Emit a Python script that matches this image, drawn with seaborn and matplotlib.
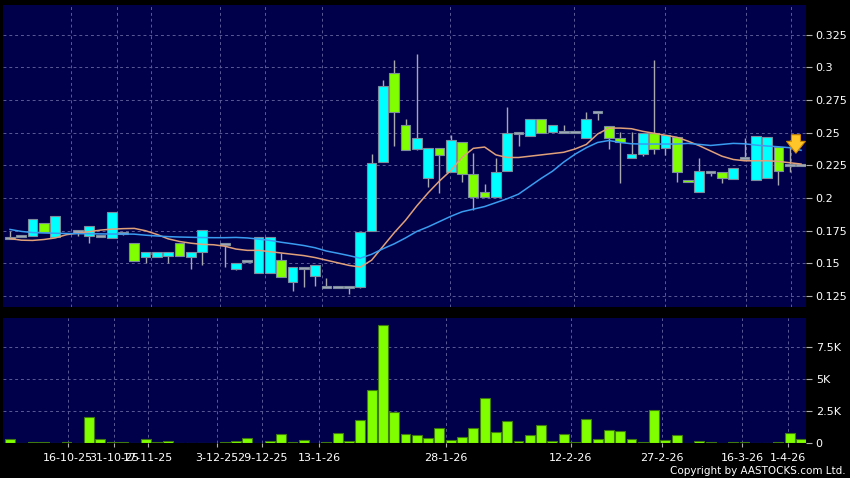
import numpy as np
import matplotlib
matplotlib.use("Agg")
import matplotlib.pyplot as plt
import seaborn as sns

nan = np.nan

# daily candles (oldest -> newest)
opens = [
    0.1697, 0.1713, 0.1707, 0.1807, 0.1704, nan, 0.1744, 0.1710, 0.1712, 0.1692,
    0.1730, 0.1654, 0.1549, 0.1549, 0.1557, 0.1654, 0.1549, 0.1591, nan, 0.1646,
    0.1460, 0.1520, 0.1429, 0.1429, 0.1528, 0.1360, 0.1463, 0.1403, 0.1320, 0.1320,
    0.1320, 0.1322, 0.1750, 0.2278, 0.2953, 0.2556, 0.2372, 0.2150, 0.2380, 0.2201,
    0.2430, 0.2181, 0.2048, 0.2010, 0.2204, 0.2500, 0.2474, 0.2602, 0.2502, 0.2504,
    0.2504, 0.2456, 0.2655, 0.2553, 0.2456, 0.2303, 0.2334, 0.2499, 0.2380, 0.2469,
    0.2138, 0.2044, 0.2201, 0.2201, 0.2143, 0.2304, 0.2138, 0.2150, 0.2392, 0.2252,
    0.2250]
closes = [
    0.1697, 0.1713, 0.1842, 0.1738, 0.1860, nan, 0.1744, 0.1784, 0.1712, 0.1891,
    0.1730, 0.1520, 0.1588, 0.1588, 0.1587, 0.1559, 0.1591, 0.1753, nan, 0.1646,
    0.1500, 0.1520, 0.1704, 0.1704, 0.1394, 0.1475, 0.1463, 0.1485, 0.1320, 0.1320,
    0.1320, 0.1742, 0.2265, 0.2856, 0.2655, 0.2367, 0.2456, 0.2380, 0.2326, 0.2443,
    0.2183, 0.2010, 0.2010, 0.2201, 0.2495, 0.2500, 0.2602, 0.2500, 0.2558, 0.2504,
    0.2504, 0.2602, 0.2655, 0.2456, 0.2426, 0.2334, 0.2499, 0.2372, 0.2482, 0.2201,
    0.2120, 0.2204, 0.2201, 0.2150, 0.2227, 0.2304, 0.2476, 0.2469, 0.2206, 0.2252,
    0.2250]
highs = [
    0.1749, 0.1713, 0.1842, 0.1807, 0.1860, nan, 0.1744, 0.1784, 0.1712, 0.1891,
    0.1730, 0.1654, 0.1588, 0.1588, 0.1587, 0.1654, 0.1591, 0.1753, nan, 0.1646,
    0.1500, 0.1520, 0.1704, 0.1704, 0.1580, 0.1475, 0.1463, 0.1485, 0.1386, 0.1320,
    0.1320, 0.1742, 0.2337, 0.2902, 0.3055, 0.2604, 0.3100, 0.2380, 0.2380, 0.2482,
    0.2430, 0.2342, 0.2107, 0.2304, 0.2698, 0.2500, 0.2602, 0.2602, 0.2558, 0.2558,
    0.2504, 0.2655, 0.2655, 0.2553, 0.2507, 0.2507, 0.2499, 0.3055, 0.2482, 0.2469,
    0.2138, 0.2304, 0.2201, 0.2201, 0.2227, 0.2456, 0.2476, 0.2469, 0.2392, 0.2443,
    0.2250]
lows = [
    0.1690, 0.1713, 0.1707, 0.1738, 0.1704, nan, 0.1710, 0.1660, 0.1712, 0.1692,
    0.1715, 0.1520, 0.1500, 0.1549, 0.1500, 0.1559, 0.1455, 0.1488, nan, 0.1475,
    0.1450, 0.1520, 0.1429, 0.1429, 0.1394, 0.1291, 0.1322, 0.1327, 0.1320, 0.1320,
    0.1270, 0.1310, 0.1750, 0.2278, 0.2400, 0.2367, 0.2367, 0.2082, 0.2036, 0.2201,
    0.2125, 0.1908, 0.2010, 0.2010, 0.2204, 0.2398, 0.2474, 0.2500, 0.2502, 0.2504,
    0.2504, 0.2456, 0.2600, 0.2377, 0.2112, 0.2303, 0.2320, 0.2336, 0.2329, 0.2120,
    0.2120, 0.2044, 0.2170, 0.2112, 0.2143, 0.2304, 0.2138, 0.2150, 0.2100, 0.2200,
    0.2250]
volumes = [
    310, 0, 100, 100, 0, 80, 30, 2030, 340, 100,
    100, 0, 310, 80, 210, 20, 0, 0, 0, 80,
    160, 390, 0, 180, 700, 80, 230, 0, 130, 780,
    180, 1820, 4140, 9240, 2470, 750, 680, 440, 1220, 260,
    520, 1220, 3540, 860, 1740, 180, 650, 1430, 160, 700,
    100, 1900, 340, 1040, 940, 340, 100, 2630, 260, 680,
    0, 210, 80, 0, 130, 100, 20, 20, 80, 830,
    360]
# moving averages as drawn on the chart
ma_short = [
    0.1690, 0.1678, 0.1676, 0.1683, 0.1695, 0.1720, 0.1732, 0.1743, 0.1755, 0.1762,
    0.1766, 0.1768, 0.1750, 0.1722, 0.1688, 0.1668, 0.1655, 0.1646, 0.1643, 0.1632,
    0.1610, 0.1600, 0.1600, 0.1590, 0.1580, 0.1570, 0.1560, 0.1545, 0.1525, 0.1505,
    0.1485, 0.1472, 0.1525, 0.1630, 0.1735, 0.1830, 0.1940, 0.2040, 0.2130, 0.2210,
    0.2310, 0.2380, 0.2390, 0.2330, 0.2310, 0.2310, 0.2320, 0.2330, 0.2340, 0.2350,
    0.2375, 0.2410, 0.2490, 0.2535, 0.2535, 0.2530, 0.2510, 0.2495, 0.2480, 0.2465,
    0.2435, 0.2400, 0.2360, 0.2320, 0.2295, 0.2285, 0.2285, 0.2285, 0.2280, 0.2270,
    0.2260]
ma_long = [
    0.1760, 0.1745, 0.1736, 0.1733, 0.1731, 0.1729, 0.1728, 0.1727, 0.1726, 0.1725,
    0.1725, 0.1724, 0.1716, 0.1710, 0.1705, 0.1702, 0.1700, 0.1698, 0.1697, 0.1697,
    0.1699, 0.1695, 0.1686, 0.1676, 0.1662, 0.1650, 0.1637, 0.1620, 0.1595, 0.1578,
    0.1560, 0.1540, 0.1570, 0.1612, 0.1650, 0.1695, 0.1745, 0.1780, 0.1820, 0.1860,
    0.1895, 0.1915, 0.1935, 0.1965, 0.1995, 0.2030, 0.2090, 0.2150, 0.2205, 0.2275,
    0.2335, 0.2385, 0.2425, 0.2440, 0.2425, 0.2415, 0.2413, 0.2413, 0.2413, 0.2413,
    0.2418, 0.2410, 0.2402, 0.2410, 0.2418, 0.2415, 0.2405, 0.2398, 0.2392, 0.2385,
    0.2365]

date_ticks = [5.13, 9.2, 12.2, 18.3, 22.3, 27.35, 38.6, 49.6, 57.7, 64.8, 68.85]
date_labels = ["16-10-25", "31-10-25", "17-11-25", "3-12-25", "29-12-25", "13-1-26",
               "28-1-26", "12-2-26", "27-2-26", "16-3-26", "1-4-26"]
price_ticks = [0.125, 0.15, 0.175, 0.2, 0.225, 0.25, 0.275, 0.3, 0.325]
price_labels = ["0.125", "0.15", "0.175", "0.2", "0.225", "0.25", "0.275", "0.3", "0.325"]
vol_ticks = [0, 2500, 5000, 7500]
vol_labels = ["0", "2.5K", "5K", "7.5K"]
last_price = 0.225

BG = "#00004a"
GRID = "#5a5a96"
UP = "#00ffff"
DOWN = "#80ff00"
FLAT = "#a4aabb"

idx = np.arange(len(opens))
o = np.array(opens)
c = np.array(closes)
h = np.array(highs)
l = np.array(lows)
ok = ~np.isnan(o)

fig = plt.figure(figsize=(8.5, 4.78), dpi=100, facecolor="black")
W, H = 850, 478
ax1 = fig.add_axes([3 / W, 1 - 307 / H, 803 / W, 302 / H])
ax2 = fig.add_axes([3 / W, 1 - 443.3 / H, 803 / W, 125.3 / H])

for ax in (ax1, ax2):
    ax.set_facecolor(BG)
    ax.set_axisbelow(True)
    ax.grid(True, color=GRID, linestyle=(0, (3, 3)), linewidth=0.7)
    for sp in ax.spines.values():
        sp.set_visible(False)
    ax.yaxis.tick_right()
    ax.tick_params(axis="y", colors="#b0b0b0", labelcolor="white", length=4,
                   width=0.8, pad=3, labelsize=8)
    ax.set_xlim(-0.62, 70.44)

# candles
colors = [UP if cc > oo else (DOWN if cc < oo else FLAT) for oo, cc in zip(o[ok], c[ok])]
body_lo = np.minimum(o[ok], c[ok])
body_h = np.abs(c[ok] - o[ok])
flat = body_h == 0
body_lo = np.where(flat, o[ok] - 0.0008, body_lo)
body_h = np.where(flat, 0.0016, body_h)
ax1.vlines(idx[ok], l[ok], h[ok], color="#a8a8b0", linewidth=1, zorder=1)
ax1.bar(idx[ok], body_h, bottom=body_lo, width=0.86, color=colors,
        edgecolor="#7c8c9c", linewidth=0.8, zorder=2)

sns.lineplot(x=idx, y=ma_short, color="#e0a07a", linewidth=1.1, ax=ax1, zorder=3)
sns.lineplot(x=idx, y=ma_long, color="#3a9cf0", linewidth=1.1, ax=ax1, zorder=3)

ax1.hlines(last_price, idx[-1], 70.44, color="#a8a8b0", linewidth=1, zorder=2)
ax1.annotate("", xy=(69.55, 0.2322), xytext=(69.55, 0.2505),
             arrowprops=dict(arrowstyle="simple,head_width=1.35,head_length=0.85,tail_width=0.65",
                             fc="#ffc62a", ec="#d08a00", lw=0.8), zorder=5)

ax1.set_ylim(0.1167, 0.3476)
ax1.set_yticks(price_ticks)
ax1.set_yticklabels(price_labels)
ax1.set_xticks([t + 0.3 for t in date_ticks])
ax1.tick_params(axis="x", length=0, labelbottom=False)
ax1.set_xlabel("")
ax1.set_ylabel("")

# volume
sns.barplot(x=idx, y=volumes, native_scale=True, color=DOWN, saturation=1,
            edgecolor="#3f7a10", linewidth=0.8, width=0.88, errorbar=None, ax=ax2)
ax2.set_xlim(-0.62, 70.44)
ax2.set_ylim(0, 9800)
ax2.set_yticks(vol_ticks)
ax2.set_yticklabels(vol_labels)
ax2.set_xticks(date_ticks)
ax2.set_xticklabels(date_labels)
ax2.tick_params(axis="x", colors="#b0b0b0", labelcolor="white", length=3,
                width=0.8, pad=4, labelsize=8)
ax2.set_xlabel("")
ax2.set_ylabel("")

fig.text(846 / W, 1 - 471.5 / H, "Copyright by AASTOCKS.com Ltd.", color="white",
         fontsize=7.5, ha="right", va="center")

fig.savefig("out.png", dpi=100, facecolor="black")
